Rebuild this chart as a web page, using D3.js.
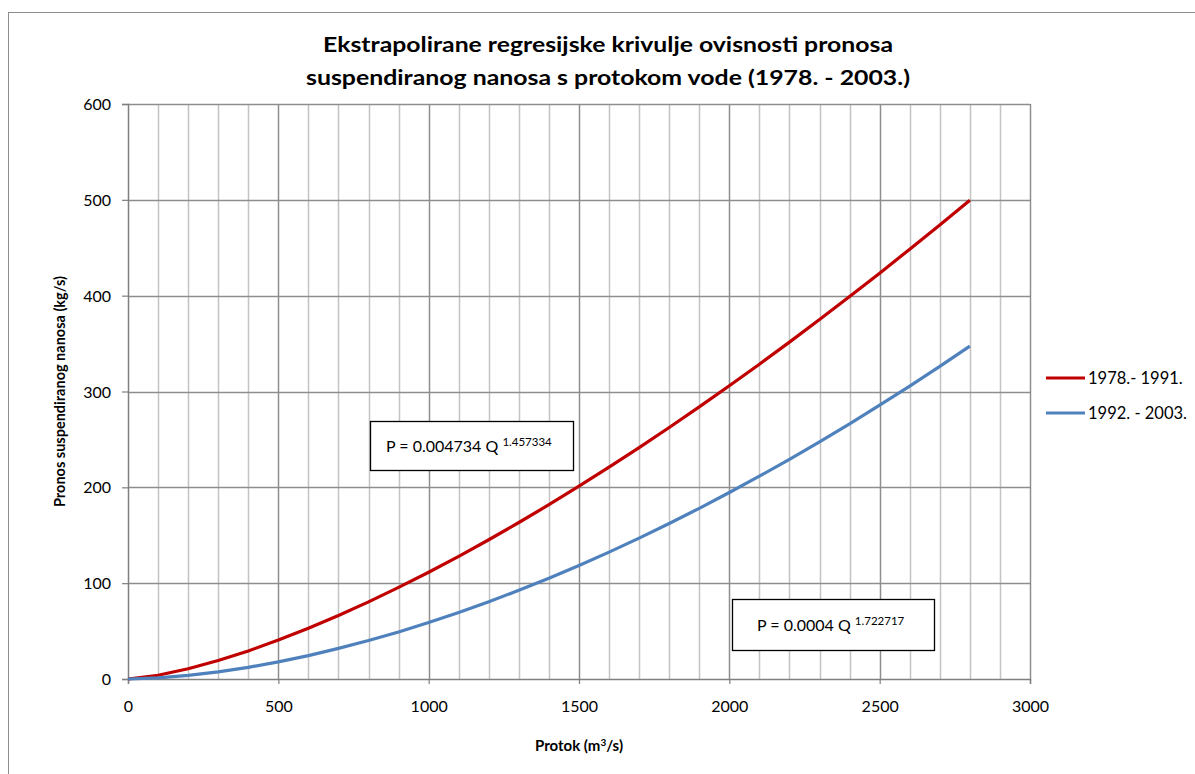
<!DOCTYPE html>
<html>
<head>
<meta charset="utf-8">
<script src="https://cdn.jsdelivr.net/npm/d3@7"></script>
<style>
  html, body { margin: 0; padding: 0; background: #fff; }
  svg { display: block; font-family: Lato, "Open Sans", sans-serif; }
</style>
</head>
<body>
<svg id="chart" width="1195" height="774"></svg>
<script>
// Discharge values Q (m³/s)
const protok = [0, 100, 200, 300, 400, 500, 600, 700, 800, 900, 1000, 1100, 1200, 1300,
  1400, 1500, 1600, 1700, 1800, 1900, 2000, 2100, 2200, 2300, 2400, 2500, 2600, 2700, 2800];
// Suspended sediment transport P (kg/s), 1978.-1991.
const pronos1978 = [0, 3.9, 10.7, 19.3, 29.3, 40.6, 53.0, 66.3, 80.5, 95.6, 111.4, 128.0, 145.3, 163.3,
  181.9, 201.2, 221.0, 241.4, 262.4, 283.9, 306.0, 328.5, 351.5, 375.1, 399.1, 423.5, 448.5, 473.8, 499.6];
// Suspended sediment transport P (kg/s), 1992.-2003.
const pronos1992 = [0, 1.1, 3.7, 7.4, 12.2, 17.9, 24.4, 31.9, 40.1, 49.1, 58.9, 69.4, 80.6, 92.6,
  105.2, 118.5, 132.4, 147.0, 162.2, 178.1, 194.6, 211.6, 229.2, 247.5, 266.3, 285.7, 305.7, 326.2, 347.4];

const seriesNames = ["1978.- 1991.", "1992. - 2003."];
const seriesColors = ["#C00000", "#4F81BD"];
const xTicks = [0, 500, 1000, 1500, 2000, 2500, 3000];
const yTicks = [0, 100, 200, 300, 400, 500, 600];
const titleLines = ["Ekstrapolirane regresijske krivulje ovisnosti pronosa",
  "suspendiranog nanosa s protokom vode (1978. -  2003.)"];
const equations = [
  { base: "P = 0.004734 Q ", exp: "1.457334" },
  { base: "P = 0.0004 Q ", exp: "1.722717" }
];

const svg = d3.select("#chart");

// Outer chart frame
svg.append("rect")
  .attr("x", 8.5).attr("y", 12.5).attr("width", 1300).attr("height", 900)
  .attr("fill", "#fff").attr("stroke", "#8c8c8c").attr("stroke-width", 1);

const plot = { left: 128, right: 1030, top: 104, bottom: 679 };
const x = d3.scaleLinear().domain([0, 3000]).range([plot.left, plot.right]);
const y = d3.scaleLinear().domain([0, 600]).range([plot.bottom, plot.top]);

// Minor vertical gridlines every 100
const minor = d3.range(100, 3000, 100).filter(v => v % 500 !== 0);
svg.append("g").selectAll("line").data(minor).join("line")
  .attr("x1", d => Math.round(x(d)) + 0.5).attr("x2", d => Math.round(x(d)) + 0.5)
  .attr("y1", plot.top).attr("y2", plot.bottom)
  .attr("stroke", "#c4c4c4").attr("stroke-width", 1.5);

// Major vertical gridlines every 500
svg.append("g").selectAll("line").data(xTicks.filter(v => v > 0)).join("line")
  .attr("x1", d => Math.round(x(d)) + 0.5).attr("x2", d => Math.round(x(d)) + 0.5)
  .attr("y1", plot.top).attr("y2", plot.bottom)
  .attr("stroke", "#8e8e8e").attr("stroke-width", 1.5);

// Horizontal gridlines
svg.append("g").selectAll("line").data(yTicks.filter(v => v > 0)).join("line")
  .attr("x1", plot.left).attr("x2", plot.right)
  .attr("y1", d => Math.round(y(d)) + 0.5).attr("y2", d => Math.round(y(d)) + 0.5)
  .attr("stroke", "#8e8e8e").attr("stroke-width", 1.5);

// Axes
const xAxis = d3.axisBottom(x).tickValues(xTicks).tickSize(5).tickPadding(17).tickFormat(d3.format("d"));
const gx = svg.append("g").attr("transform", `translate(0,${plot.bottom})`).call(xAxis);
const yAxis = d3.axisLeft(y).tickValues(yTicks).tickSize(6).tickPadding(11).tickFormat(d3.format("d"));
const gy = svg.append("g").attr("transform", `translate(${plot.left},0)`).call(yAxis);
[gx, gy].forEach(g => {
  g.select(".domain").attr("stroke", "#808080").attr("stroke-width", 1.5);
  g.selectAll(".tick line").attr("stroke", "#808080").attr("stroke-width", 1.2);
  g.selectAll(".tick text").attr("fill", "#000").attr("font-size", 16)
    .attr("font-family", "Lato, 'Open Sans', sans-serif");
});
gy.selectAll(".tick text").attr("dy", "0.35em");

// Series lines
const series = [pronos1978, pronos1992];
const line = d3.line().x((d, i) => x(protok[i])).y(d => y(d));
series.forEach((vals, k) => {
  svg.append("path").datum(vals)
    .attr("d", line)
    .attr("fill", "none")
    .attr("stroke", seriesColors[k])
    .attr("stroke-width", 3.2)
    .attr("stroke-linejoin", "round");
});

// Title
svg.append("g").selectAll("text").data(titleLines).join("text")
  .attr("x", 608).attr("y", (d, i) => 52 + i * 33)
  .attr("text-anchor", "middle")
  .attr("font-size", 21).attr("font-weight", "bold")
  .attr("textLength", (d, i) => i === 0 ? 570 : 604)
  .attr("lengthAdjust", "spacingAndGlyphs")
  .text(d => d);

// Axis titles
svg.append("text")
  .attr("transform", `translate(65,${(plot.top + plot.bottom) / 2}) rotate(-90)`)
  .attr("text-anchor", "middle")
  .attr("font-size", 14.5).attr("font-weight", "bold")
  .text("Pronos suspendiranog nanosa (kg/s)");

const xt = svg.append("text")
  .attr("x", 579).attr("y", 751)
  .attr("text-anchor", "middle")
  .attr("font-size", 15).attr("font-weight", "bold");
xt.append("tspan").text("Protok (m");
xt.append("tspan").attr("font-size", 10).attr("dy", -5).text("3");
xt.append("tspan").attr("dy", 5).text("/s)");

// Equation boxes
const boxes = [
  { x0: 370, y0: 421, w: 203, h: 49, tx: 386, ty: 452 },
  { x0: 732, y0: 599, w: 202, h: 51, tx: 757, ty: 631 }
];
boxes.forEach((b, k) => {
  svg.append("rect")
    .attr("x", b.x0 + 0.5).attr("y", b.y0 + 0.5).attr("width", b.w).attr("height", b.h)
    .attr("fill", "#fff").attr("stroke", "#000").attr("stroke-width", 1.3);
  const t = svg.append("text").attr("x", b.tx).attr("y", b.ty).attr("font-size", 16);
  t.append("tspan").text(equations[k].base);
  t.append("tspan").attr("font-size", 11.5).attr("dy", -6).text(equations[k].exp);
});

// Legend
const legend = svg.append("g");
seriesNames.forEach((name, k) => {
  const ly = 378 + k * 35;
  legend.append("line")
    .attr("x1", 1046).attr("x2", 1085).attr("y1", ly).attr("y2", ly)
    .attr("stroke", seriesColors[k]).attr("stroke-width", 3);
  legend.append("text")
    .attr("x", 1088).attr("y", ly).attr("dy", "0.35em")
    .attr("font-size", 16.5).text(name);
});
</script>
</body>
</html>
